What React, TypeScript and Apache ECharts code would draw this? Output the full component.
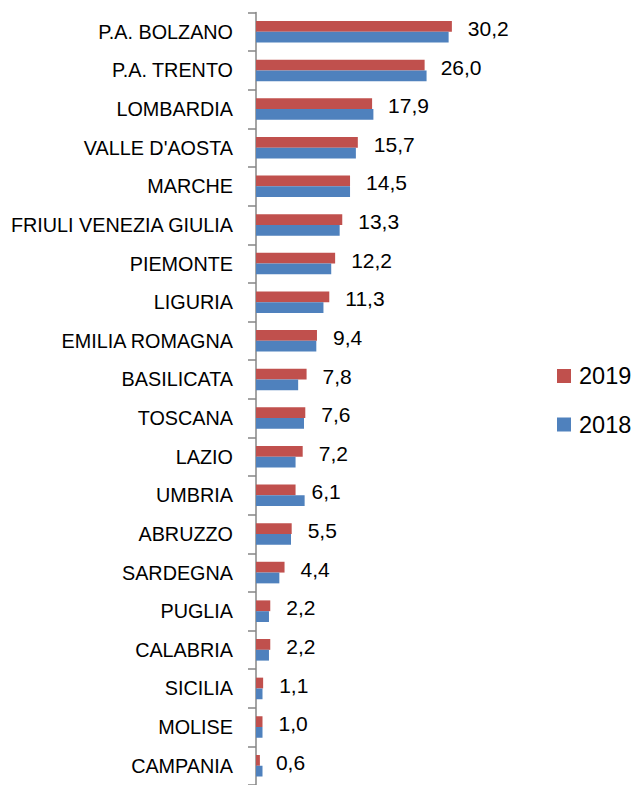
import React, { useEffect, useRef } from "react";
import * as echarts from "echarts";

const categories = [
  "P.A. BOLZANO", "P.A. TRENTO", "LOMBARDIA", "VALLE D'AOSTA", "MARCHE",
  "FRIULI VENEZIA GIULIA", "PIEMONTE", "LIGURIA", "EMILIA ROMAGNA", "BASILICATA",
  "TOSCANA", "LAZIO", "UMBRIA", "ABRUZZO", "SARDEGNA",
  "PUGLIA", "CALABRIA", "SICILIA", "MOLISE", "CAMPANIA",
];
const values2019 = [30.2, 26.0, 17.9, 15.7, 14.5, 13.3, 12.2, 11.3, 9.4, 7.8, 7.6, 7.2, 6.1, 5.5, 4.4, 2.2, 2.2, 1.1, 1.0, 0.6];
const values2018 = [29.7, 26.3, 18.1, 15.4, 14.5, 12.9, 11.6, 10.4, 9.3, 6.5, 7.4, 6.1, 7.5, 5.4, 3.6, 2.0, 2.0, 1.0, 1.0, 1.0];
const seriesNames = ["2019", "2018"];

const FONT = "'Liberation Sans', Arial, sans-serif";

export default function App() {
  const ref = useRef<HTMLDivElement>(null);
  useEffect(() => {
    if (!ref.current) return;
    const chart = echarts.init(ref.current, null, { renderer: "svg" });
    chart.setOption({
      animation: false,
      backgroundColor: "#ffffff",
      textStyle: { fontFamily: FONT },
      grid: { left: 256, top: 12.5, width: 227, height: 777 },
      legend: {
        orient: "vertical",
        left: 557,
        top: 364,
        padding: 0,
        itemWidth: 14,
        itemHeight: 14,
        itemGap: 24.5,
        icon: "rect",
        data: seriesNames,
        textStyle: { fontSize: 23.5, color: "#000", fontFamily: FONT, lineHeight: 24, padding: [0, 0, 0, 3] },
      },
      xAxis: {
        type: "value",
        min: 0,
        max: 35,
        show: false,
        splitLine: { show: false },
      },
      yAxis: {
        type: "category",
        inverse: true,
        data: categories,
        axisLine: { show: true, lineStyle: { color: "#868686", width: 1.5 } },
        axisTick: { show: true, length: 8, lineStyle: { color: "#868686", width: 1.5 } },
        axisLabel: { color: "#000", fontSize: 19.8, fontFamily: FONT, margin: 23 },
      },
      series: [
        {
          name: seriesNames[0],
          type: "bar",
          data: values2019,
          barWidth: 10.8,
          barGap: "0%",
          itemStyle: { color: "#C0504D" },
          label: {
            show: true,
            position: "right",
            distance: 16,
            offset: [0, 2],
            color: "#000",
            fontSize: 21,
            fontFamily: FONT,
            formatter: (p: any) => Number(p.value).toFixed(1).replace(".", ","),
          },
        },
        {
          name: seriesNames[1],
          type: "bar",
          data: values2018,
          barWidth: 10.8,
          barGap: "0%",
          itemStyle: { color: "#4F81BD" },
        },
      ],
    });
    return () => chart.dispose();
  }, []);
  return (
    <div
      ref={ref}
      style={{ position: "absolute", left: 0, top: 0, width: 635, height: 785 }}
    />
  );
}
